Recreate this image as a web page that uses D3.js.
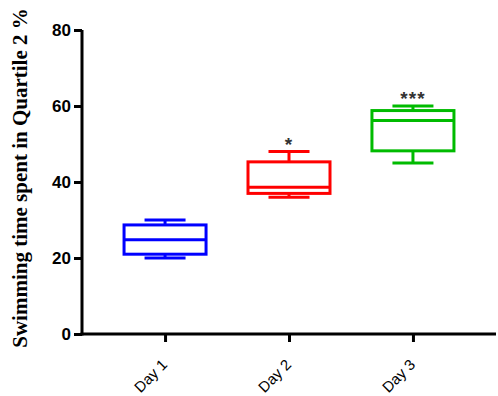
<!DOCTYPE html>
<html>
<head>
<meta charset="utf-8">
<script src="https://cdn.jsdelivr.net/npm/d3@7"></script>
<style>
  body { margin: 0; background: #fff; }
</style>
</head>
<body>
<div id="chart"></div>
<script>
const days = ["Day 1", "Day 2", "Day 3"];
const whiskerLow = [20, 36, 45];
const q1 = [21, 37, 48.2];
const median = [24.8, 38.6, 56.2];
const q3 = [28.7, 45.3, 58.8];
const whiskerHigh = [30, 48, 60];
const marks = ["", "*", "***"];
const colors = ["#0000ff", "#ff0000", "#00bb00"];
const yTicks = [0, 20, 40, 60, 80];

const width = 498, height = 396;
const margin = { top: 30, right: 2, bottom: 62, left: 82 };

const svg = d3.select("#chart")
  .append("svg")
  .attr("width", width)
  .attr("height", height);

const x = d3.scalePoint()
  .domain(days)
  .range([margin.left, width - margin.right])
  .padding(0.67);

const y = d3.scaleLinear()
  .domain([0, 80])
  .range([height - margin.bottom, margin.top]);

const boxW = 82, capW = 41;

// axes
const yAxis = svg.append("g")
  .attr("transform", `translate(${margin.left},0)`)
  .call(d3.axisLeft(y).tickValues(yTicks).tickSize(8).tickPadding(3));
yAxis.select(".domain").attr("stroke-width", 3).attr("d", `M0,${y(80)}V${y(0) + 1.5}`);
yAxis.selectAll(".tick line").attr("stroke-width", 3);
yAxis.selectAll(".tick text")
  .style("font-family", "'Liberation Sans', Arial, sans-serif")
  .style("font-weight", "bold")
  .style("font-size", "17px")
  .attr("fill", "#000");

const xAxis = svg.append("g")
  .attr("transform", `translate(0,${y(0)})`)
  .call(d3.axisBottom(x).tickSize(8).tickPadding(2));
xAxis.select(".domain").attr("stroke-width", 3).attr("d", `M${margin.left - 1.5},0H${width - margin.right}`);
xAxis.selectAll(".tick line").attr("stroke-width", 3);
xAxis.selectAll(".tick text")
  .style("font-family", "'Liberation Sans', Arial, sans-serif")
  .style("font-size", "15px")
  .attr("fill", "#000")
  .attr("text-anchor", "end")
  .attr("y", 0)
  .attr("dy", "0.35em")
  .attr("transform", "translate(-1,28) rotate(-45)");

// y title
svg.append("text")
  .attr("transform", `translate(27,${(y(0) + y(80)) / 2 - 4}) rotate(-90)`)
  .attr("text-anchor", "middle")
  .style("font-family", "'Liberation Serif', 'Times New Roman', serif")
  .style("font-weight", "bold")
  .style("font-size", "21px")
  .text("Swimming time spent in Quartile 2 %");

// boxes
const boxes = svg.append("g")
  .selectAll("g")
  .data(days)
  .join("g")
  .attr("fill", "none")
  .attr("stroke", (d, i) => colors[i])
  .attr("stroke-width", 3);

boxes.append("line")
  .attr("x1", d => x(d)).attr("x2", d => x(d))
  .attr("y1", (d, i) => y(whiskerHigh[i])).attr("y2", (d, i) => y(q3[i]));
boxes.append("line")
  .attr("x1", d => x(d)).attr("x2", d => x(d))
  .attr("y1", (d, i) => y(q1[i])).attr("y2", (d, i) => y(whiskerLow[i]));
boxes.append("line")
  .attr("x1", d => x(d) - capW / 2).attr("x2", d => x(d) + capW / 2)
  .attr("y1", (d, i) => y(whiskerHigh[i])).attr("y2", (d, i) => y(whiskerHigh[i]));
boxes.append("line")
  .attr("x1", d => x(d) - capW / 2).attr("x2", d => x(d) + capW / 2)
  .attr("y1", (d, i) => y(whiskerLow[i])).attr("y2", (d, i) => y(whiskerLow[i]));
boxes.append("rect")
  .attr("x", d => x(d) - boxW / 2)
  .attr("width", boxW)
  .attr("y", (d, i) => y(q3[i]))
  .attr("height", (d, i) => y(q1[i]) - y(q3[i]))
  .attr("fill", "#fff");
boxes.append("line")
  .attr("x1", d => x(d) - boxW / 2).attr("x2", d => x(d) + boxW / 2)
  .attr("y1", (d, i) => y(median[i])).attr("y2", (d, i) => y(median[i]));

// significance marks
svg.append("g")
  .selectAll("text")
  .data(days)
  .join("text")
  .attr("x", d => x(d))
  .attr("y", (d, i) => y(whiskerHigh[i]) - 1)
  .attr("text-anchor", "middle")
  .style("font-family", "'Liberation Sans', Arial, sans-serif")
  .style("font-size", "19px")
  .style("font-weight", "bold")
  .style("letter-spacing", "1px")
  .attr("fill", "#333")
  .text((d, i) => marks[i]);
</script>
</body>
</html>
